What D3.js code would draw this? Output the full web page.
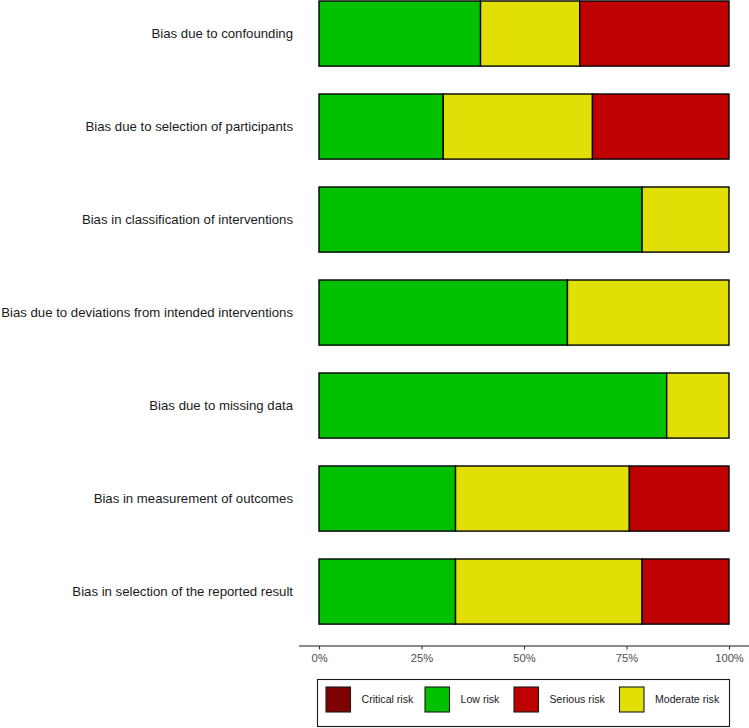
<!DOCTYPE html>
<html><head><meta charset="utf-8">
<script src="https://cdn.jsdelivr.net/npm/d3@7"></script>
<style>body{margin:0;background:#fff}svg{display:block}</style>
</head><body>
<script>
const categories = [
  "Bias due to confounding",
  "Bias due to selection of participants",
  "Bias in classification of interventions",
  "Bias due to deviations from intended interventions",
  "Bias due to missing data",
  "Bias in measurement of outcomes",
  "Bias in selection of the reported result"
];
// percentages of studies per judgement
const lowRisk      = [39.4, 30.3, 78.8, 60.6, 84.8, 33.3, 33.3];
const moderateRisk = [24.2, 36.4, 21.2, 39.4, 15.2, 42.4, 45.5];
const seriousRisk  = [36.4, 33.3,  0,    0,    0,   24.3, 21.2];
const criticalRisk = [0, 0, 0, 0, 0, 0, 0];
const tickValues = [0, 25, 50, 75, 100];
const tickLabels = ["0%", "25%", "50%", "75%", "100%"];
const legendLabels = ["Critical risk", "Low risk", "Serious risk", "Moderate risk"];
const colors = {"Critical risk":"#7F0000","Low risk":"#02C100","Serious risk":"#BF0000","Moderate risk":"#E2DF07"};
const stackOrder = ["Low risk", "Moderate risk", "Serious risk", "Critical risk"];
const seriesMap = {"Low risk": lowRisk, "Moderate risk": moderateRisk, "Serious risk": seriousRisk, "Critical risk": criticalRisk};

const W = 749, H = 728;
const svg = d3.select("body").append("svg").attr("width", W).attr("height", H);
const font = "'Liberation Sans', Arial, Helvetica, sans-serif";

const x = d3.scaleLinear().domain([0, 100]).range([319, 729]);
const y = d3.scaleBand().domain(categories).range([1, 624.1]).paddingInner(0.3).paddingOuter(0);

const rows = categories.map((c, i) => {
  const r = {cat: c};
  stackOrder.forEach(k => r[k] = seriesMap[k][i]);
  return r;
});
const stack = d3.stack().keys(stackOrder)(rows);

svg.append("g").selectAll("g").data(stack).join("g")
  .attr("fill", d => colors[d.key])
  .selectAll("rect").data(d => d.filter(p => p[1] - p[0] > 0)).join("rect")
  .attr("x", d => x(d[0]))
  .attr("width", d => x(d[1]) - x(d[0]))
  .attr("y", d => y(d.data.cat))
  .attr("height", y.bandwidth())
  .attr("stroke", "#000").attr("stroke-width", 1.4);

// category labels
svg.append("g").selectAll("text").data(categories).join("text")
  .attr("x", 293).attr("y", d => y(d) + y.bandwidth() / 2)
  .attr("dy", "0.35em").attr("text-anchor", "end")
  .attr("font-family", font).attr("font-size", 13.2).attr("fill", "#1a1a1a")
  .text(d => d);

// x axis
const axisY = 646;
const ax = svg.append("g").attr("transform", `translate(0,${axisY})`);
ax.append("line").attr("x1", 299).attr("x2", 749).attr("stroke", "#1a1a1a").attr("stroke-width", 1.1);
const axis = d3.axisBottom(x).tickValues(tickValues).tickFormat((d, i) => tickLabels[i]).tickSize(3.5).tickSizeOuter(0);
const g = svg.append("g").attr("transform", `translate(0,${axisY})`).call(axis);
g.select(".domain").remove();
g.selectAll(".tick line").attr("stroke", "#333").attr("stroke-width", 1.1);
g.selectAll(".tick text").attr("font-family", font).attr("font-size", 11.2).attr("fill", "#4d4d4d").attr("dy", "0.85em");

// legend
const lg = svg.append("g");
lg.append("rect").attr("x", 317.5).attr("y", 679.5).attr("width", 412).attr("height", 47)
  .attr("fill", "#fff").attr("stroke", "#1a1a1a").attr("stroke-width", 1.1);
const swX = [326, 425, 514, 619.5];
const items = lg.selectAll("g.it").data(legendLabels).join("g").attr("class", "it")
  .attr("transform", (d, i) => `translate(${swX[i]},687)`);
items.append("rect").attr("width", 24.5).attr("height", 25)
  .attr("fill", d => colors[d]).attr("stroke", "#1a1a1a").attr("stroke-width", 1.1);
items.append("text").attr("x", 35.5).attr("y", 12.5).attr("dy", "0.35em")
  .attr("font-family", font).attr("font-size", 10.6).attr("fill", "#1a1a1a").text(d => d);
</script>
</body></html>
